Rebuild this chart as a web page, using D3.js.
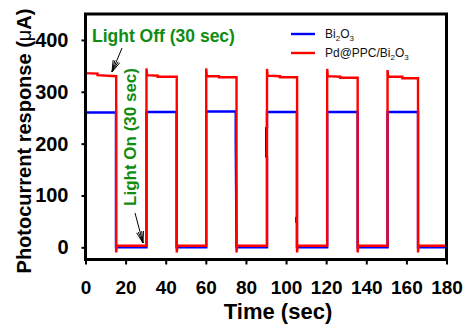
<!DOCTYPE html>
<html><head><meta charset="utf-8">
<script src="https://cdn.jsdelivr.net/npm/d3@7"></script>
<style>body{margin:0;background:#fff}svg{display:block}</style>
</head><body>
<svg id="c" width="466" height="324"></svg>
<script>
// ---- data ----
const xTicks = [0,20,40,60,80,100,120,140,160,180];
const yTicks = [0,100,200,300,400];
// Bi2O3 (blue) : time (sec), current (µA)
const bi2o3Time = [0,0.3,15.2,15.2,30.4,30.4,45.4,45.4,60.2,60.2,74.9,74.9,75.3,90.5,90.5,90.1,90.1,90.5,90.5,105.4,105.4,105.1,105.1,105.4,105.4,120.5,120.5,135.7,135.7,150.6,150.6,165.8,165.8,180];
const bi2o3Value = [266,260,260,0,0,261,261,0,0,262,262,207,0,0,174,175,230,231,261,261,58,57,49,48,0,0,261,261,0,0,261,261,0,0];
// Pd@PPC/Bi2O3 (red)
const pdTime = [0,0.3,6,6,15.3,15.3,15.6,30.4,30.4,30.7,36,36,45.5,45.5,45.8,60.2,60.2,60.5,66.5,66.5,75.3,75.3,75.6,90.5,90.5,90.8,97,97,105.5,105.5,105.8,120.5,120.5,120.8,127,127,135.7,135.7,136,150.6,150.6,150.9,158,158,165.8,165.8,166.1,180];
const pdValue = [345,336,335,332,330,-10,3,3,345,332,331,329,329,-10,3,3,345,330,330,328,328,-10,3,3,344,331,330,328,328,-10,3,3,344,330,329,327,327,-10,3,3,342,329,329,326,326,-10,3,3];
const seriesNames = ["Bi2O3","Pd@PPC/Bi2O3"];

// ---- layout ----
const svg = d3.select("#c");
const L=85.5, R=446.5, T=14, B=259.5;
const x = d3.scaleLinear().domain([0,180]).range([L,R]);
const y = d3.scaleLinear().domain([-23.5,450]).range([B,T]);

// series
const line = d3.line().x(d=>x(d[0])).y(d=>y(d[1]));
const blue = bi2o3Time.map((t,i)=>[t,bi2o3Value[i]]);
const red = pdTime.map((t,i)=>[t,pdValue[i]]);
svg.append("path").attr("d",line(blue)).attr("fill","none").attr("stroke","#0000ff").attr("stroke-width",2.4);
svg.append("path").attr("d",line(red)).attr("fill","none").attr("stroke","#ff0000").attr("stroke-width",2.4);

// axes
const fontAx = "'Liberation Sans', Arial, sans-serif";
const yAx = svg.append("g").attr("transform",`translate(${L},0)`)
  .call(d3.axisLeft(y).tickValues(yTicks).tickSize(4).tickPadding(13).tickSizeOuter(0));
const xAx = svg.append("g").attr("transform",`translate(0,${B})`)
  .call(d3.axisBottom(x).tickValues(xTicks).tickSize(5).tickPadding(16).tickSizeOuter(0));
[yAx,xAx].forEach(g=>{
  g.select(".domain").remove();
  g.selectAll("line").attr("stroke","#000").attr("stroke-width",2);
  g.selectAll("text").attr("fill","#000").style("font-family",fontAx).style("font-weight","bold");
});
yAx.selectAll("text").style("font-size","20px");
xAx.selectAll("text").style("font-size","19px");

// frame
svg.append("rect").attr("x",L).attr("y",T).attr("width",R-L).attr("height",B-T)
  .attr("fill","none").attr("stroke","#000").attr("stroke-width",3);

// axis titles
svg.append("text").attr("x",278).attr("y",319).attr("text-anchor","middle")
  .style("font-family",fontAx).style("font-weight","bold").style("font-size","22px").text("Time (sec)");
const yt = svg.append("text").attr("transform","translate(31,141) rotate(-90)").attr("text-anchor","middle")
  .style("font-family",fontAx).style("font-weight","bold").style("font-size","20px");
yt.append("tspan").text("Photocurrent response (");
yt.append("tspan").style("font-weight","normal").text("μ");
yt.append("tspan").text("A)");

// legend
const lg = [{c:"#0000ff",y:34},{c:"#ff0000",y:53}];
lg.forEach((d,i)=>{
  svg.append("line").attr("x1",291).attr("x2",315).attr("y1",d.y).attr("y2",d.y).attr("stroke",d.c).attr("stroke-width",2.4);
});
function chem(t, xx, yy){
  const tx = svg.append("text").attr("x",xx).attr("y",yy).style("font-family",fontAx).style("font-size","12px").attr("fill","#111");
  const parts = t.split(/(\d)/);
  parts.forEach(p=>{
    if(!p) return;
    if(/\d/.test(p)) tx.append("tspan").attr("dy",3).style("font-size","8px").text(p);
    else { const s = tx.append("tspan").text(p); }
  });
  // reset baseline after subscripts
  tx.selectAll("tspan").each(function(d,i,n){
    const el=d3.select(this);
    if(!/\d/.test(el.text()) && i>0) el.attr("dy",-3);
  });
}
chem(seriesNames[0],325,38);
chem(seriesNames[1],325,57);

// annotations
const green = "#108c10";
svg.append("text").attr("x",92).attr("y",42).style("font-family",fontAx).style("font-weight","bold")
  .style("font-size","17.5px").attr("fill",green).text("Light Off (30 sec)");
svg.append("text").attr("transform","translate(136,137) rotate(-90)").attr("text-anchor","middle")
  .style("font-family",fontAx).style("font-weight","bold").style("font-size","17px").attr("fill",green).text("Light On (30 sec)");

function arrow(x1,y1,x2,y2){
  svg.append("line").attr("x1",x1).attr("y1",y1).attr("x2",x2).attr("y2",y2).attr("stroke","#000").attr("stroke-width",1);
  const a = Math.atan2(y2-y1,x2-x1);
  [-0.3,-0.15,0.15,0.3].forEach(o=>{
    svg.append("line").attr("x1",x2).attr("y1",y2)
      .attr("x2",x2-12*Math.cos(a+o)).attr("y2",y2-12*Math.sin(a+o))
      .attr("stroke","#000").attr("stroke-width",1);
  });
}
arrow(122,48,112,72);
arrow(135,213,143,243);
</script>
</body></html>
